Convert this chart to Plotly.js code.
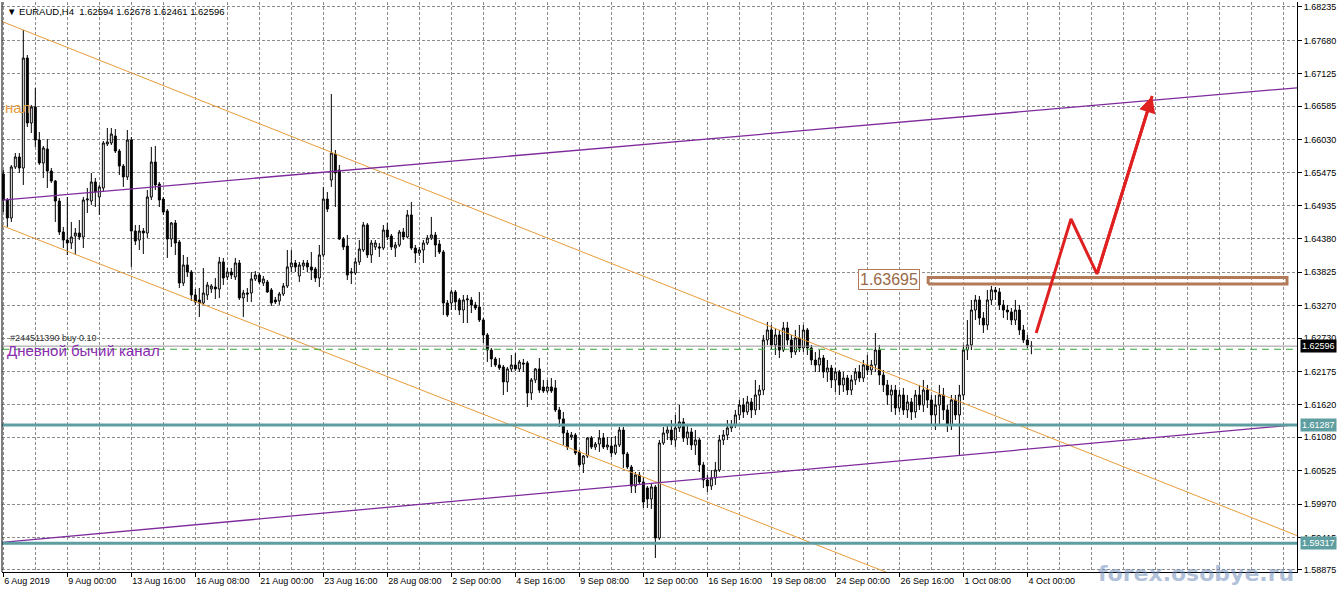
<!DOCTYPE html>
<html><head><meta charset="utf-8">
<script src="https://cdn.plot.ly/plotly-3.0.1.min.js"></script>
<style>html,body{margin:0;padding:0;background:#fff}#chart{width:1344px;height:593px}</style>
</head><body><div id="chart"></div>
<script>
// EURAUD H4 candles, bar 0 = 6 Aug 2019 08:00
const openP = [
1.65458,1.65026,1.64727,1.65575,1.65741,1.65558,1.67387,1.66306,1.66573,1.66024,
1.65641,1.65874,1.65508,1.65342,1.65009,1.64494,1.64361,1.64311,1.64427,1.64477,
1.64411,1.65026,1.65009,1.65326,1.65076,1.65226,1.65957,1.65974,1.66090,1.65840,
1.65591,1.65409,1.66024,1.64510,1.64361,1.64510,1.64477,1.65076,1.65658,1.65292,
1.65042,1.64843,1.64377,1.64644,1.64328,1.63646,1.63946,1.63829,1.63447,1.63364,
1.63314,1.63447,1.63546,1.63580,1.63546,1.63996,1.63746,1.63829,1.63746,1.63979,
1.63397,1.63480,1.63480,1.63713,1.63779,1.63646,1.63663,1.63530,1.63364,1.63347,
1.63463,1.63596,1.63913,1.63979,1.63763,1.63929,1.63979,1.63913,1.63879,1.63729,
1.64112,1.65042,1.65359,1.65791,1.65525,1.64377,1.64261,1.63812,1.63812,1.63996,
1.64195,1.64611,1.64112,1.64245,1.64245,1.64228,1.64527,1.64427,1.64228,1.64278,
1.64494,1.64411,1.64777,1.64228,1.64145,1.64195,1.64311,1.64394,1.64444,1.64294,
1.64162,1.63314,1.63314,1.63497,1.63364,1.63197,1.63364,1.63364,1.63281,1.63247,
1.63031,1.62782,1.62532,1.62383,1.62283,1.62250,1.62001,1.62217,1.62283,1.62217,
1.62316,1.62316,1.61818,1.62034,1.62217,1.61917,1.61851,1.61917,1.61901,1.61535,
1.61386,1.61152,1.61086,1.61119,1.60837,1.60637,1.60770,1.61069,1.60919,1.60969,
1.61069,1.60919,1.60936,1.60820,1.60953,1.61202,1.60803,1.60587,1.60271,1.60454,
1.60338,1.60238,1.60055,1.60255,1.59407,1.60986,1.61152,1.61202,1.61036,1.61236,
1.61336,1.61069,1.61169,1.60953,1.61036,1.60621,1.60371,1.60271,1.60404,1.60537,
1.61036,1.61119,1.61236,1.61286,1.61452,1.61618,1.61502,1.61668,1.61535,1.61784,
1.61867,1.62699,1.62865,1.62616,1.62782,1.62532,1.62898,1.62699,1.62499,1.62732,
1.62566,1.62865,1.62566,1.62366,1.62283,1.62399,1.62167,1.62233,1.62034,1.62167,
1.61951,1.62067,1.61867,1.62034,1.62167,1.62067,1.62283,1.62200,1.62283,1.62532,
1.62117,1.61951,1.61784,1.61867,1.61568,1.61784,1.61535,1.61668,1.61502,1.61784,
1.61618,1.61867,1.61701,1.61452,1.61618,1.61784,1.61535,1.61286,1.61701,1.61452,
1.61784,1.62532,1.62616,1.63197,1.63364,1.63064,1.62948,1.63364,1.63530,1.63497,
1.63281,1.63197,1.63164,1.63031,1.63197,1.62865,1.62699,1.62594];
const highP = [
1.65525,1.65059,1.65608,1.65807,1.65807,1.67852,1.67437,1.66606,1.66888,1.66157,
1.65924,1.66040,1.65558,1.65359,1.65059,1.64578,1.65076,1.64661,1.64561,1.64694,
1.65076,1.65226,1.65475,1.65392,1.65276,1.66007,1.66223,1.66223,1.66206,1.65874,
1.65624,1.66190,1.66074,1.64611,1.64611,1.64561,1.65192,1.65908,1.65924,1.65326,
1.65076,1.64876,1.64661,1.64694,1.64361,1.64112,1.64079,1.63862,1.63546,1.63563,
1.63896,1.63663,1.63629,1.63729,1.64079,1.64062,1.63896,1.63896,1.64062,1.64029,
1.63530,1.63563,1.63829,1.63845,1.63812,1.63763,1.63696,1.63563,1.63414,1.63497,
1.63646,1.64195,1.64195,1.64029,1.63996,1.64029,1.64029,1.64162,1.63913,1.64278,
1.65243,1.65159,1.66788,1.65857,1.65608,1.64411,1.64444,1.63896,1.64062,1.64361,
1.64661,1.64644,1.64361,1.64361,1.64311,1.64611,1.64644,1.64461,1.64328,1.64527,
1.64561,1.64860,1.64993,1.64278,1.64245,1.64361,1.64444,1.64744,1.64494,1.64361,
1.64195,1.63364,1.63530,1.63530,1.63397,1.63447,1.63447,1.63414,1.63331,1.63497,
1.63064,1.62815,1.62566,1.62416,1.62399,1.62283,1.62250,1.62449,1.62482,1.62366,
1.62383,1.62349,1.62067,1.62233,1.62399,1.62034,1.62034,1.62067,1.62034,1.61585,
1.61502,1.61202,1.61169,1.61152,1.60870,1.60787,1.61086,1.61102,1.61003,1.61202,
1.61152,1.61086,1.61086,1.61102,1.61252,1.61252,1.60837,1.60621,1.60504,1.60504,
1.60421,1.60271,1.60305,1.60288,1.61036,1.61252,1.61286,1.61369,1.61452,1.61618,
1.61402,1.61286,1.61236,1.61202,1.61069,1.60671,1.60454,1.60537,1.60671,1.61119,
1.61202,1.61369,1.61369,1.61535,1.61701,1.61734,1.61768,1.61734,1.62034,1.61951,
1.62782,1.62998,1.62948,1.62898,1.62865,1.62998,1.62998,1.62782,1.62865,1.62948,
1.62948,1.62898,1.62616,1.62499,1.62532,1.62449,1.62366,1.62283,1.62233,1.62200,
1.62167,1.62117,1.62117,1.62233,1.62283,1.62366,1.62449,1.62366,1.62815,1.62616,
1.62200,1.62034,1.61951,1.61951,1.61867,1.61901,1.61784,1.61734,1.61867,1.61951,
1.62034,1.61951,1.61784,1.61784,1.61951,1.61901,1.61618,1.61784,1.61784,1.61951,
1.62616,1.63031,1.63364,1.63447,1.63430,1.63164,1.63530,1.63596,1.63580,1.63563,
1.63364,1.63281,1.63231,1.63364,1.63281,1.62948,1.62782,1.62678];
const lowP = [
1.64827,1.64578,1.64661,1.65541,1.65475,1.65276,1.66240,1.66140,1.65908,1.65608,
1.65392,1.65226,1.65309,1.64661,1.64444,1.64228,1.64112,1.64211,1.64112,1.64361,
1.64228,1.64810,1.64943,1.64910,1.64777,1.65159,1.65924,1.65941,1.65807,1.65442,
1.65243,1.65359,1.63913,1.64278,1.64195,1.64128,1.64394,1.65026,1.65192,1.64910,
1.64777,1.64062,1.64245,1.64112,1.63563,1.63596,1.63746,1.63347,1.63281,1.63081,
1.63281,1.63364,1.63480,1.63380,1.63397,1.63613,1.63696,1.63713,1.63696,1.63364,
1.63081,1.63331,1.63331,1.63679,1.63629,1.63596,1.63480,1.63264,1.63297,1.63281,
1.63430,1.63563,1.63829,1.63829,1.63663,1.63862,1.63829,1.63696,1.63663,1.63580,
1.64079,1.64827,1.65243,1.64910,1.64361,1.64195,1.63696,1.63629,1.63779,1.63946,
1.64162,1.64062,1.63979,1.64195,1.64079,1.64195,1.64361,1.64195,1.64079,1.64245,
1.64361,1.64394,1.64195,1.63979,1.64095,1.63979,1.64278,1.64361,1.64079,1.64128,
1.63114,1.63081,1.63197,1.63197,1.63114,1.62981,1.62981,1.63147,1.63197,1.62998,
1.62649,1.62333,1.62250,1.62250,1.62200,1.61784,1.61834,1.62167,1.62183,1.62167,
1.62167,1.61585,1.61701,1.61984,1.61818,1.61818,1.61818,1.61818,1.61502,1.61253,
1.60953,1.60870,1.61036,1.60787,1.60587,1.60487,1.60737,1.60886,1.60870,1.60837,
1.60886,1.60870,1.60754,1.60787,1.60919,1.60571,1.60554,1.60155,1.60155,1.60305,
1.59905,1.59905,1.59889,1.59074,1.59374,1.60953,1.61036,1.60953,1.60919,1.61169,
1.61003,1.60953,1.60870,1.60787,1.60504,1.60238,1.60172,1.60205,1.60288,1.60504,
1.60953,1.61036,1.61169,1.61236,1.61369,1.61402,1.61452,1.61402,1.61452,1.61535,
1.61784,1.62616,1.62532,1.62449,1.62399,1.62499,1.62616,1.62399,1.62449,1.62499,
1.62499,1.62449,1.62283,1.62167,1.62167,1.62067,1.62001,1.61901,1.61834,1.61784,
1.61834,1.61784,1.61784,1.61951,1.62001,1.62001,1.62117,1.62117,1.62167,1.61951,
1.61834,1.61618,1.61502,1.61452,1.61502,1.61452,1.61402,1.61369,1.61402,1.61535,
1.61502,1.61568,1.61286,1.61202,1.61286,1.61369,1.61169,1.61202,1.61369,1.60787,
1.61701,1.62366,1.62532,1.63031,1.62948,1.62815,1.62865,1.63281,1.63364,1.63197,
1.63064,1.63031,1.62948,1.62948,1.62782,1.62649,1.62566,1.62461];
const closeP = [
1.65026,1.64727,1.65575,1.65741,1.65558,1.67387,1.66306,1.66573,1.66024,1.65641,
1.65891,1.65508,1.65342,1.65009,1.64494,1.64361,1.64311,1.64411,1.64477,1.64411,
1.65026,1.65042,1.65326,1.65159,1.65243,1.65974,1.65991,1.66123,1.65840,1.65591,
1.65409,1.66024,1.64510,1.64344,1.64510,1.64477,1.65076,1.65658,1.65276,1.65026,
1.64827,1.64377,1.64644,1.64311,1.63646,1.63946,1.63829,1.63447,1.63331,1.63314,
1.63480,1.63613,1.63596,1.63546,1.63996,1.63729,1.63829,1.63779,1.63979,1.63397,
1.63480,1.63463,1.63713,1.63779,1.63663,1.63713,1.63497,1.63314,1.63331,1.63463,
1.63596,1.63913,1.63979,1.63913,1.63946,1.63979,1.63913,1.63862,1.63729,1.64112,
1.65042,1.64876,1.65807,1.65475,1.64377,1.64245,1.63779,1.63829,1.63996,1.64211,
1.64611,1.64112,1.64311,1.64311,1.64228,1.64527,1.64411,1.64245,1.64278,1.64494,
1.64411,1.64777,1.64228,1.64145,1.64195,1.64311,1.64394,1.64444,1.64278,1.64162,
1.63314,1.63114,1.63497,1.63331,1.63197,1.63364,1.63380,1.63281,1.63231,1.63031,
1.62782,1.62532,1.62383,1.62283,1.62233,1.62001,1.62217,1.62283,1.62217,1.62333,
1.62300,1.61818,1.62034,1.62217,1.61867,1.61851,1.61917,1.61851,1.61535,1.61386,
1.61152,1.60919,1.61119,1.60820,1.60621,1.60770,1.61069,1.60919,1.60969,1.61069,
1.60919,1.60953,1.60820,1.60953,1.61202,1.60803,1.60587,1.60271,1.60454,1.60338,
1.60005,1.60055,1.60255,1.59407,1.60986,1.61152,1.61202,1.61036,1.61236,1.61336,
1.61069,1.61169,1.60953,1.61036,1.60621,1.60371,1.60271,1.60404,1.60537,1.61036,
1.61119,1.61236,1.61286,1.61452,1.61618,1.61502,1.61668,1.61535,1.61784,1.61867,
1.62699,1.62865,1.62616,1.62782,1.62532,1.62898,1.62699,1.62499,1.62732,1.62566,
1.62865,1.62566,1.62366,1.62283,1.62399,1.62167,1.62233,1.62034,1.62167,1.61951,
1.62067,1.61867,1.62034,1.62167,1.62067,1.62283,1.62200,1.62283,1.62532,1.62117,
1.61951,1.61784,1.61867,1.61568,1.61784,1.61535,1.61668,1.61502,1.61784,1.61618,
1.61867,1.61701,1.61452,1.61618,1.61784,1.61535,1.61286,1.61701,1.61452,1.61784,
1.62532,1.62616,1.63197,1.63364,1.63064,1.62948,1.63364,1.63530,1.63497,1.63281,
1.63197,1.63164,1.63031,1.63197,1.62865,1.62699,1.62616,1.62596];
const barIndex = openP.map((_, i) => i);

// time axis labels (bar index -> label)
const timeTickBars = [0,16,32,48,64,80,96,112,128,144,160,176,192,208,224,240,256];
const timeTickText = ["6 Aug 2019","9 Aug 00:00","13 Aug 16:00","16 Aug 08:00","21 Aug 00:00","23 Aug 16:00",
  "28 Aug 08:00","2 Sep 00:00","4 Sep 16:00","9 Sep 08:00","12 Sep 00:00","16 Sep 16:00","19 Sep 08:00",
  "24 Sep 00:00","26 Sep 16:00","1 Oct 08:00","4 Oct 00:00"];
const priceTicks = [1.68235,1.67680,1.67125,1.66585,1.66030,1.65475,1.64935,1.64380,1.63825,1.63270,
  1.62730,1.62175,1.61620,1.61080,1.60525,1.59970,1.59415,1.58875];

// drawn objects
const bearChUpperX = [-1, 324], bearChUpperY = [1.68011, 1.59430];
const bearChLowerX = [-1, 324], bearChLowerY = [1.64618, 1.56145];
const bullChUpperX = [-1, 324], bullChUpperY = [1.65020, 1.66895];
const bullChLowerX = [-1, 324], bullChLowerY = [1.59330, 1.61294];
const supportLevels = [1.61287, 1.59317];
const bidPrice = 1.62596;
const orderPrice = 1.62544;
const zoneX = [231.2, 320.9], zoneY = [1.63629, 1.63738];
const zoneLabel = "1.63695";
const forecastX = [258.2, 266.9, 273.4, 287.2];
const forecastY = [1.62815, 1.64710, 1.63796, 1.66755];
const xRange = [-0.33, 323.4];
const yRange = [1.58841, 1.68318];

const ORANGE = '#e89b3c', PURPLE = '#7f2a9c', TEAL = '#5f9ea0', BROWN = '#b27a58', RED = '#e02020';
const font = 'Liberation Sans, Arial, sans-serif';

const traces = [
  {type:'candlestick', x: barIndex, open: openP, high: highP, low: lowP, close: closeP,
   increasing:{line:{color:'#000', width:1}, fillcolor:'#fff'},
   decreasing:{line:{color:'#000', width:1}, fillcolor:'#000'},
   whiskerwidth:0, hoverinfo:'skip', showlegend:false},
  {type:'scatter', mode:'lines', x: bearChUpperX, y: bearChUpperY, line:{color:ORANGE, width:1}, hoverinfo:'skip'},
  {type:'scatter', mode:'lines', x: bearChLowerX, y: bearChLowerY, line:{color:ORANGE, width:1}, hoverinfo:'skip'},
  {type:'scatter', mode:'lines', x: bullChUpperX, y: bullChUpperY, line:{color:PURPLE, width:1.3}, hoverinfo:'skip'},
  {type:'scatter', mode:'lines', x: bullChLowerX, y: bullChLowerY, line:{color:PURPLE, width:1.3}, hoverinfo:'skip'},
  {type:'scatter', mode:'lines', x: xRange, y: [supportLevels[0], supportLevels[0]], line:{color:TEAL, width:3}, hoverinfo:'skip'},
  {type:'scatter', mode:'lines', x: xRange, y: [supportLevels[1], supportLevels[1]], line:{color:TEAL, width:3}, hoverinfo:'skip'},
  {type:'scatter', mode:'lines', x: xRange, y: [bidPrice, bidPrice], line:{color:'#999', width:1}, hoverinfo:'skip'},
  {type:'scatter', mode:'lines', x: xRange, y: [orderPrice, orderPrice], line:{color:'#3aa83a', width:1, dash:'7px,5px'}, hoverinfo:'skip'},
  {type:'scatter', mode:'lines', x: [zoneX[0], zoneX[1], zoneX[1], zoneX[0], zoneX[0]],
   y: [zoneY[0], zoneY[0], zoneY[1], zoneY[1], zoneY[0]], line:{color:BROWN, width:3}, hoverinfo:'skip'},
  {type:'scatter', mode:'lines', x: forecastX, y: forecastY, line:{color:RED, width:3}, hoverinfo:'skip'}
];

const n = forecastX.length;
const annotations = [
  {xref:'paper', yref:'paper', x:0.002, y:0.997, xanchor:'left', yanchor:'top', showarrow:false,
   text:'▼ EURAUD,H4  1.62594 1.62678 1.62461 1.62596', font:{family:font, size:9.5, color:'#000'}},
  {xref:'paper', yref:'y', x:0.0005, y:1.66556, xanchor:'left', yanchor:'middle', showarrow:false,
   text:'нал', font:{family:font, size:15, color:ORANGE}},
  {xref:'paper', yref:'y', x:0.005, y:1.62622, xanchor:'left', yanchor:'bottom', showarrow:false,
   text:'#244511390 buy 0.10', font:{family:font, size:9, color:'#333'}},
  {xref:'paper', yref:'y', x:0.002, y:1.62530, xanchor:'left', yanchor:'middle', showarrow:false,
   text:'Дневной бычий канал', font:{family:font, size:15, color:'#8a2bb0'}},
  {xref:'x', yref:'y', x:229.2, y:1.63696, xanchor:'right', yanchor:'middle', showarrow:false,
   text:zoneLabel, font:{family:font, size:16, color:'#9a6a48'}, bgcolor:'#fff', bordercolor:BROWN, borderwidth:1, borderpad:1},
  {xref:'x', yref:'y', axref:'x', ayref:'y', x: forecastX[n-1], y: forecastY[n-1], ax: forecastX[n-2], ay: forecastY[n-2],
   showarrow:true, arrowhead:2, arrowsize:1.1, arrowwidth:3, arrowcolor:RED, text:'', standoff:0},
  {xref:'paper', yref:'y', x:1.002, y:bidPrice, xanchor:'left', yanchor:'middle', showarrow:false,
   text:bidPrice.toFixed(5), font:{family:font, size:9, color:'#fff'}, bgcolor:'#000', borderpad:1},
  {xref:'paper', yref:'y', x:1.002, y:supportLevels[0], xanchor:'left', yanchor:'middle', showarrow:false,
   text:supportLevels[0].toFixed(5), font:{family:font, size:9, color:'#fff'}, bgcolor:TEAL, borderpad:1},
  {xref:'paper', yref:'y', x:1.002, y:supportLevels[1], xanchor:'left', yanchor:'middle', showarrow:false,
   text:supportLevels[1].toFixed(5), font:{family:font, size:9, color:'#fff'}, bgcolor:TEAL, borderpad:1},
  {xref:'paper', yref:'paper', x:0.999, y:-0.002, xanchor:'right', yanchor:'middle', showarrow:false,
   text:'<b>forex.osobye.ru</b>', font:{family:'DejaVu Sans, sans-serif', size:22, color:'rgba(110,140,185,0.55)'}}
];

const layout = {
  width:1344, height:593,
  margin:{l:2, r:47, t:2, b:21},
  paper_bgcolor:'#fff', plot_bgcolor:'#fff',
  showlegend:false, hovermode:false,
  xaxis:{range:xRange, tickmode:'array', tickvals:timeTickBars, ticktext:timeTickText,
    ticklabelposition:'outside right', ticks:'outside', ticklen:4, tickcolor:'#000',
    showgrid:true, gridcolor:'#8c8c8c', griddash:'3px,2px', gridwidth:1,
    minor:{tick0:0, dtick:8, showgrid:true, gridcolor:'#8c8c8c', griddash:'3px,2px', gridwidth:1},
    showline:true, linecolor:'#000', linewidth:1, zeroline:false,
    rangeslider:{visible:false}, tickfont:{family:font, size:9, color:'#000'}, fixedrange:true},
  yaxis:{range:yRange, side:'right', tickmode:'array', tickvals:priceTicks,
    ticktext:priceTicks.map(v => v.toFixed(5)), ticks:'outside', ticklen:4, tickcolor:'#000',
    showgrid:true, gridcolor:'#8c8c8c', griddash:'3px,2px', gridwidth:1,
    showline:true, linecolor:'#000', linewidth:1, zeroline:false,
    tickfont:{family:font, size:9, color:'#000'}, fixedrange:true},
  shapes:[{type:'line', xref:'paper', yref:'paper', x0:0, x1:0, y0:0, y1:1, line:{color:'#000', width:1}}],
  annotations: annotations
};

Plotly.newPlot('chart', traces, layout, {displayModeBar:false, staticPlot:true});
</script>
</body></html>
